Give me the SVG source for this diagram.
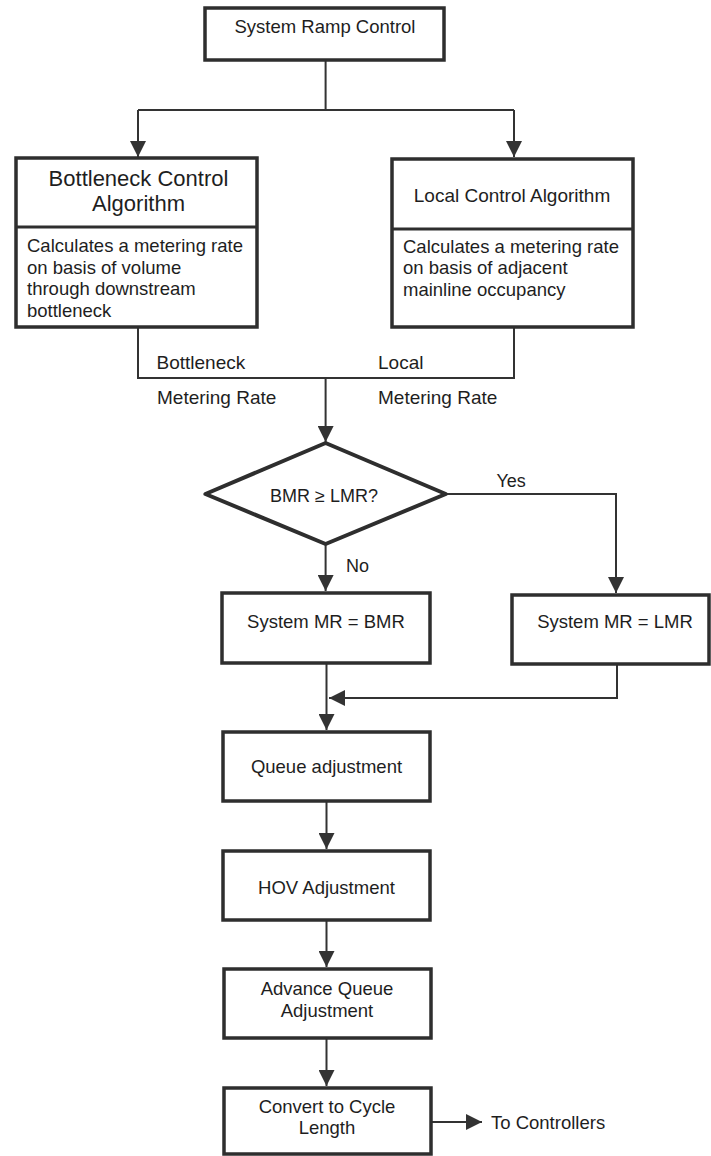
<svg xmlns="http://www.w3.org/2000/svg" width="711" height="1156" viewBox="0 0 711 1156">
  <style>
    .box { fill: #fff; stroke: #2e2e2e; stroke-width: 3.5; }
    .div { stroke: #2e2e2e; stroke-width: 3; fill: none; }
    .wire { fill: none; stroke: #333; stroke-width: 2; }
    .t { font-family: "Liberation Sans", Arial, Helvetica, sans-serif; font-size: 18.5px; fill: #1e1e1e; }
    .c { text-anchor: middle; }
    .big { font-size: 22px; }
    .mid { font-size: 19px; }
    .sm { font-size: 18px; }
  </style>
  <defs>
    <marker id="arrow" markerUnits="userSpaceOnUse" markerWidth="16" markerHeight="16" refX="16" refY="8" orient="auto">
      <path d="M0,0 L16,8 L0,16 Z" fill="#333"/>
    </marker>
  </defs>
  <rect width="711" height="1156" fill="#fff"/>

  <!-- connectors -->
  <g id="connectors">
    <path class="wire" d="M325.6,60 V110 M138,110 H514"/>
    <path class="wire" d="M138,110 V157" marker-end="url(#arrow)"/>
    <path class="wire" d="M514,110 V157" marker-end="url(#arrow)"/>
    <path class="wire" d="M138,327 V378 H514 V327"/>
    <path class="wire" d="M325.6,378 V442" marker-end="url(#arrow)"/>
    <path class="wire" d="M446,494 H616 V593" marker-end="url(#arrow)"/>
    <path class="wire" d="M325.6,544 V591" marker-end="url(#arrow)"/>
    <path class="wire" d="M326.5,663 V730" marker-end="url(#arrow)"/>
    <path class="wire" d="M617,664 V698 H329"  marker-end="url(#arrow)"/>
    <path class="wire" d="M326.5,801 V849" marker-end="url(#arrow)"/>
    <path class="wire" d="M326.5,920 V967" marker-end="url(#arrow)"/>
    <path class="wire" d="M326.5,1038 V1086" marker-end="url(#arrow)"/>
    <path class="wire" d="M431,1122 H482" marker-end="url(#arrow)"/>
    <text class="t mid" x="156.5" y="369">Bottleneck</text>
    <text class="t mid" x="157" y="404">Metering Rate</text>
    <text class="t mid" x="378" y="369">Local</text>
    <text class="t mid" x="378" y="404">Metering Rate</text>
    <text class="t sm" x="496.5" y="487">Yes</text>
    <text class="t sm" x="346" y="572">No</text>
    <text class="t" x="491" y="1129">To Controllers</text>
  </g>

  <!-- nodes -->
  <g id="system-ramp-control">
    <rect class="box" x="205" y="8" width="239" height="52"/>
    <text class="t c" x="325" y="33">System Ramp Control</text>
  </g>

  <g id="bottleneck-control">
    <rect class="box" x="16" y="158" width="241" height="169"/>
    <line class="div" x1="16" y1="227" x2="257" y2="227"/>
    <text class="t c big" x="138.5" y="186">Bottleneck Control</text>
    <text class="t c big" x="138.5" y="211">Algorithm</text>
    <text class="t" x="27" y="252">Calculates a metering rate</text>
    <text class="t" x="27" y="273.5">on basis of volume</text>
    <text class="t" x="27" y="295">through downstream</text>
    <text class="t" x="27" y="317">bottleneck</text>
  </g>

  <g id="local-control">
    <rect class="box" x="392" y="159" width="241" height="168"/>
    <line class="div" x1="392" y1="229" x2="633" y2="229"/>
    <text class="t c mid" x="512" y="202">Local Control Algorithm</text>
    <text class="t" x="403" y="252.5">Calculates a metering rate</text>
    <text class="t" x="403" y="274">on basis of adjacent</text>
    <text class="t" x="403" y="296">mainline occupancy</text>
  </g>

  <g id="decision">
    <polygon points="325.6,443 445.8,494 325.6,544 205.4,494" fill="#fff" stroke="#2e2e2e" stroke-width="4" stroke-linejoin="round"/>
    <text class="t c sm" x="324" y="502">BMR ≥ LMR?</text>
  </g>

  <g id="system-mr-bmr">
    <rect class="box" x="222" y="593" width="208" height="70"/>
    <text class="t c" x="326" y="628">System MR = BMR</text>
  </g>

  <g id="system-mr-lmr">
    <rect class="box" x="512" y="595" width="197" height="69"/>
    <text class="t c" x="615" y="628">System MR = LMR</text>
  </g>

  <g id="queue-adjustment">
    <rect class="box" x="223" y="732" width="207" height="69"/>
    <text class="t c" x="326.5" y="773">Queue adjustment</text>
  </g>

  <g id="hov-adjustment">
    <rect class="box" x="223" y="851" width="207" height="69"/>
    <text class="t c" x="326.5" y="894">HOV Adjustment</text>
  </g>

  <g id="advance-queue">
    <rect class="box" x="224" y="969" width="207" height="69"/>
    <text class="t c" x="327" y="995">Advance Queue</text>
    <text class="t c" x="327" y="1017">Adjustment</text>
  </g>

  <g id="cycle-length">
    <rect class="box" x="224" y="1088" width="207" height="66"/>
    <text class="t c" x="327" y="1112.5">Convert to Cycle</text>
    <text class="t c" x="327" y="1133.5">Length</text>
  </g>
</svg>
